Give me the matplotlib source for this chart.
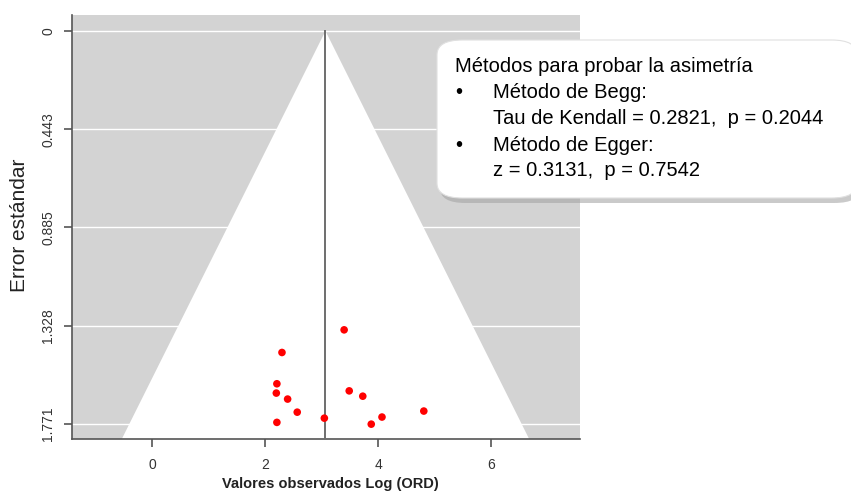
import numpy as np
import matplotlib.pyplot as plt
from matplotlib.patches import Polygon, FancyBboxPatch

plt.rcParams['font.family'] = ['Liberation Sans', 'DejaVu Sans']

# Datos del gráfico de embudo
efecto = [3.40, 2.30, 2.21, 2.20, 2.40, 2.57, 2.21, 3.05, 3.49, 3.73, 4.07, 3.88, 4.81]
error = [1.347, 1.449, 1.590, 1.632, 1.659, 1.718, 1.764, 1.745, 1.622, 1.646, 1.740, 1.772, 1.713]
centro = 3.07
yticks = [0, 0.443, 0.885, 1.328, 1.771]
xticks = [0, 2, 4, 6]

fig = plt.figure(figsize=(8.51, 4.93), dpi=100)
ax = fig.add_axes([0.0846, 0.1095, 0.597, 0.8601])

ymax = 1.839
ax.set_xlim(-1.416, 7.575)
ax.set_ylim(ymax, -0.072)
ax.set_facecolor('#d3d3d3')

for yt in yticks:
    ax.axhline(yt, color='white', lw=1, zorder=1)

# Región del embudo (IC 95%)
tri = Polygon([[centro - 1.96 * ymax, ymax], [centro, 0], [centro + 1.96 * ymax, ymax]],
              closed=True, facecolor='white', edgecolor='none', zorder=2)
ax.add_patch(tri)
ax.plot([centro, centro], [0, ymax], color='#6e6e6e', lw=1.4, zorder=3)

ax.scatter(efecto, error, s=30, color='red', edgecolors='none', zorder=4)

ax.set_yticks(yticks)
ax.set_yticklabels(['0', '0.443', '0.885', '1.328', '1.771'], rotation=90, va='center')
ax.set_xticks(xticks)
ax.tick_params(colors='#555555', labelcolor='#333333', labelsize=10, length=6, width=1.2)
ax.tick_params(axis='y', pad=6)
ax.tick_params(axis='x', pad=8)

for s in ['top', 'right']:
    ax.spines[s].set_visible(False)
for s in ['left', 'bottom']:
    ax.spines[s].set_color('#555555')
    ax.spines[s].set_linewidth(1.2)

fig.text(20 / 851, 1 - 225 / 493, 'Error estándar', rotation=90, ha='center', va='center',
         fontsize=15, color='#222222')
fig.text(330 / 851, 1 - 484 / 493, 'Valores observados Log (ORD)', ha='center', va='center',
         fontsize=10.5, fontweight='bold', color='#222222')

# Recuadro con pruebas de asimetría
W, H = 851, 493
shadow = FancyBboxPatch((440 / W, 1 - 203 / H), 420 / W, 160 / H,
                        boxstyle='round,pad=0,rounding_size=0.03', transform=fig.transFigure,
                        facecolor='#a0a0a0', edgecolor='none', alpha=0.55, zorder=5)
box = FancyBboxPatch((437 / W, 1 - 198 / H), 420 / W, 158 / H,
                     boxstyle='round,pad=0,rounding_size=0.03', transform=fig.transFigure,
                     facecolor='white', edgecolor='#e0e0e0', lw=0.8, zorder=6)
fig.patches.extend([shadow, box])

fs = 14.5
lineas = [
    (455, 67, 'Métodos para probar la asimetría'),
    (493, 93, 'Método de Begg:'),
    (493, 118, 'Tau de Kendall = 0.2821,  p = 0.2044'),
    (493, 145, 'Método de Egger:'),
    (493, 170, 'z = 0.3131,  p = 0.7542'),
]
for x, y, t in lineas:
    fig.text(x / W, 1 - y / H, t, ha='left', va='center', fontsize=fs, color='black', zorder=7)
for y in [93, 145]:
    fig.text(455 / W, 1 - y / H, '•', ha='left', va='center', fontsize=fs, color='black', zorder=7)

fig.savefig('out.png', dpi=100)
